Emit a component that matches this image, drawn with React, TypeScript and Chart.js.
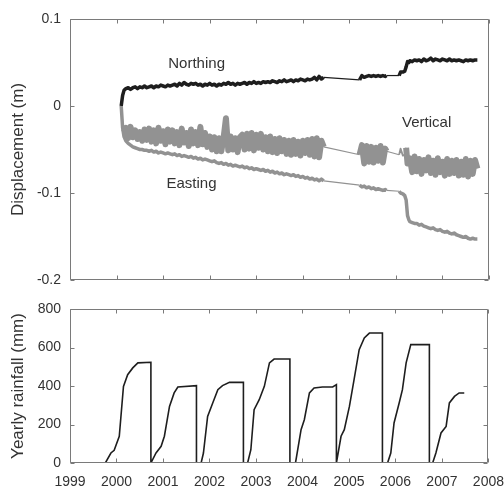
import React, { useEffect, useRef } from "react";
import { Chart, registerables } from "chart.js";

Chart.register(...registerables);

// ---------- Displacement data (years, metres) ----------
const dispTime = [
  2000.10, 2000.13, 2000.16,
  2000.20, 2000.25, 2000.30, 2000.35, 2000.40, 2000.45, 2000.50, 2000.55, 2000.60, 2000.65,
  2000.70, 2000.75, 2000.80, 2000.85, 2000.90, 2000.95, 2001.00, 2001.05, 2001.10, 2001.15,
  2001.20, 2001.25, 2001.30, 2001.35, 2001.40, 2001.45, 2001.50, 2001.55, 2001.60, 2001.65,
  2001.70, 2001.75, 2001.80, 2001.85, 2001.90, 2001.95, 2002.00, 2002.05, 2002.10, 2002.15,
  2002.20, 2002.25, 2002.30, 2002.35, 2002.40, 2002.45, 2002.50, 2002.55, 2002.60, 2002.65,
  2002.70, 2002.75, 2002.80, 2002.85, 2002.90, 2002.95, 2003.00, 2003.05, 2003.10, 2003.15,
  2003.20, 2003.25, 2003.30, 2003.35, 2003.40, 2003.45, 2003.50, 2003.55, 2003.60, 2003.65,
  2003.70, 2003.75, 2003.80, 2003.85, 2003.90, 2003.95, 2004.00, 2004.05, 2004.10, 2004.15,
  2004.20, 2004.25, 2004.30, 2004.35, 2004.40, 2004.45,
  2005.22, 2005.27, 2005.32, 2005.37, 2005.42, 2005.47, 2005.52, 2005.57, 2005.62, 2005.67, 2005.72, 2005.77, 2005.80,
  2006.07, 2006.10, 2006.15, 2006.19, 2006.22, 2006.25, 2006.28,
  2006.30, 2006.35, 2006.40, 2006.45, 2006.50, 2006.55, 2006.60, 2006.65, 2006.70, 2006.75,
  2006.80, 2006.85, 2006.90, 2006.95, 2007.00, 2007.05, 2007.10, 2007.15, 2007.20, 2007.25,
  2007.30, 2007.35, 2007.40, 2007.45, 2007.50, 2007.55, 2007.60, 2007.65, 2007.70, 2007.75,
];

const northing = [
  0.000, 0.012, 0.018,
  0.020, 0.021, 0.019, 0.021, 0.022, 0.020, 0.022, 0.021, 0.023, 0.021,
  0.022, 0.023, 0.021, 0.023, 0.022, 0.024, 0.023, 0.022, 0.024, 0.023,
  0.024, 0.025, 0.023, 0.026, 0.024, 0.027, 0.025, 0.024, 0.026, 0.025,
  0.026, 0.024, 0.025, 0.023, 0.025, 0.024, 0.026, 0.024, 0.025, 0.023,
  0.025, 0.024, 0.026, 0.025, 0.027, 0.025, 0.026, 0.024, 0.026, 0.025,
  0.026, 0.027, 0.025, 0.027, 0.026, 0.028, 0.026, 0.027, 0.026, 0.028,
  0.027, 0.028, 0.027, 0.029, 0.028, 0.027, 0.029, 0.028, 0.030, 0.028,
  0.029, 0.030, 0.028, 0.030, 0.029, 0.031, 0.030, 0.029, 0.031, 0.030,
  0.031, 0.033, 0.030, 0.034, 0.031, 0.033,
  0.030, 0.035, 0.033, 0.034, 0.035, 0.034, 0.035, 0.034, 0.035, 0.034, 0.035, 0.034, 0.035,
  0.035, 0.039, 0.039, 0.040, 0.045, 0.051, 0.050,
  0.052, 0.051, 0.053, 0.052, 0.053, 0.051, 0.054, 0.052, 0.053, 0.055,
  0.052, 0.054, 0.053, 0.052, 0.054, 0.053, 0.052, 0.054, 0.052, 0.053,
  0.052, 0.053, 0.052, 0.051, 0.053, 0.052, 0.053, 0.052, 0.053, 0.053,
];

const vertical = [
  0.000, -0.022, -0.030,
  -0.025, -0.037, -0.024, -0.036, -0.028, -0.038, -0.030, -0.040, -0.027, -0.039,
  -0.026, -0.041, -0.028, -0.043, -0.025, -0.040, -0.029, -0.044, -0.027, -0.041,
  -0.028, -0.043, -0.030, -0.045, -0.026, -0.042, -0.031, -0.046, -0.027, -0.043,
  -0.030, -0.045, -0.024, -0.044, -0.031, -0.047, -0.035, -0.050, -0.036, -0.052,
  -0.037, -0.052, -0.036, -0.014, -0.051, -0.035, -0.050, -0.037, -0.053, -0.036,
  -0.033, -0.050, -0.032, -0.049, -0.031, -0.051, -0.033, -0.048, -0.032, -0.050,
  -0.036, -0.052, -0.035, -0.053, -0.038, -0.054, -0.037, -0.052, -0.039, -0.055,
  -0.040, -0.056, -0.039, -0.055, -0.041, -0.057, -0.040, -0.054, -0.039, -0.056,
  -0.038, -0.058, -0.037, -0.059, -0.040, -0.047,
  -0.056, -0.045, -0.066, -0.046, -0.064, -0.047, -0.065, -0.048, -0.063, -0.046, -0.065, -0.049, -0.052,
  -0.056, -0.049, -0.057, -0.056, -0.048, -0.066, -0.060,
  -0.060, -0.076, -0.058, -0.075, -0.061, -0.078, -0.062, -0.074, -0.059, -0.077,
  -0.063, -0.079, -0.060, -0.076, -0.064, -0.080, -0.061, -0.078, -0.063, -0.077,
  -0.062, -0.080, -0.064, -0.079, -0.061, -0.081, -0.063, -0.078, -0.062, -0.072,
];

const easting = [
  0.000, -0.025, -0.035,
  -0.040, -0.043, -0.045, -0.047, -0.048, -0.049, -0.050, -0.050, -0.051, -0.051,
  -0.052, -0.051, -0.053, -0.052, -0.054, -0.053, -0.054, -0.055, -0.054, -0.055,
  -0.056, -0.055, -0.057, -0.056, -0.058, -0.057, -0.058, -0.059, -0.058, -0.060,
  -0.059, -0.061, -0.060, -0.062, -0.061, -0.062, -0.063, -0.064, -0.063, -0.065,
  -0.066, -0.065, -0.067, -0.066, -0.068, -0.067, -0.069, -0.068, -0.069, -0.070,
  -0.069, -0.071, -0.070, -0.072, -0.071, -0.073, -0.072, -0.073, -0.074, -0.073,
  -0.075, -0.074, -0.076, -0.075, -0.077, -0.076, -0.078, -0.077, -0.079, -0.078,
  -0.079, -0.080, -0.079, -0.081, -0.080, -0.082, -0.081, -0.083, -0.082, -0.084,
  -0.083, -0.085, -0.084, -0.086, -0.084, -0.086,
  -0.091, -0.093, -0.092, -0.094, -0.093, -0.095, -0.094, -0.096, -0.095, -0.096, -0.097, -0.096, -0.097,
  -0.098, -0.100, -0.101, -0.103, -0.108, -0.126, -0.131,
  -0.133, -0.134, -0.135, -0.135, -0.137, -0.136, -0.138, -0.139, -0.140, -0.141,
  -0.140, -0.142, -0.143, -0.142, -0.144, -0.145, -0.144, -0.146, -0.147, -0.146,
  -0.148, -0.149, -0.150, -0.151, -0.150, -0.152, -0.153, -0.152, -0.153, -0.153,
];

// ---------- Yearly (cumulative) rainfall ----------
const rainTime = [
  1999.76, 1999.88, 1999.95, 2000.06, 2000.15, 2000.24, 2000.35, 2000.46, 2000.74, 2000.74,
  2000.85, 2000.96, 2001.03, 2001.14, 2001.24, 2001.32, 2001.72, 2001.72, 2001.82,
  2001.87, 2001.96, 2002.07, 2002.18, 2002.28, 2002.43, 2002.73, 2002.73, 2002.82,
  2002.89, 2002.96, 2003.07, 2003.18, 2003.29, 2003.39, 2003.73, 2003.73, 2003.85,
  2003.97, 2004.04, 2004.15, 2004.25, 2004.43, 2004.65, 2004.73, 2004.73,
  2004.83, 2004.90, 2005.01, 2005.11, 2005.22, 2005.33, 2005.44, 2005.72, 2005.72, 2005.83,
  2005.90, 2005.97, 2006.08, 2006.15, 2006.23, 2006.33, 2006.73, 2006.73, 2006.80,
  2006.87, 2006.98, 2007.09, 2007.16, 2007.27, 2007.37, 2007.48,
];
const rainfall = [
  0, 52, 66, 139, 398, 459, 494, 520, 523, 0,
  52, 87, 139, 294, 364, 395, 402, 0, 0,
  52, 242, 312, 381, 402, 419, 419, 0, 0,
  69, 277, 329, 398, 520, 540, 540, 0, 0,
  173, 225, 364, 390, 395, 395, 407, 0,
  139, 173, 294, 433, 589, 650, 675, 675, 0, 0,
  52, 208, 312, 381, 520, 615, 615, 0, 0,
  52, 156, 190, 312, 346, 364, 364,
];

// ---------- Ticks & labels ----------
const yearTicks = [1999, 2000, 2001, 2002, 2003, 2004, 2005, 2006, 2007, 2008];
const dispTicks = [-0.2, -0.1, 0, 0.1];
const rainTicks = [0, 200, 400, 600, 800];
const seriesNames = ["Northing", "Vertical", "Easting"];
const seriesLabelX = [2001.72, 2006.66, 2001.61];
const seriesLabelY = [0.049, -0.0195, -0.0897];

const FONT = '"Liberation Sans", Arial, Helvetica, sans-serif';
const TEXT = "#333333";
const GRAY = "#929292";
const DARK = "#1e1e1e";
const FRAME = "#7a7a7a";

const frameTicksPlugin = {
  id: "frameTicks",
  afterDatasetsDraw(chart: any, _args: any, opts: any) {
    const { ctx, chartArea: a } = chart;
    const xs = chart.scales.x;
    const ys = chart.scales.y;
    const L = Math.round(a.left) + 0.5;
    const R = Math.round(a.right) - 0.5;
    const T = Math.round(a.top) + 0.5;
    const B = Math.round(a.bottom) - 0.5;
    const len = 4;
    ctx.save();
    ctx.strokeStyle = FRAME;
    ctx.lineWidth = 1;
    ctx.beginPath();
    ctx.rect(L, T, R - L, B - T);
    (opts.xTicks as number[]).forEach((v) => {
      const p = Math.round(xs.getPixelForValue(v)) + 0.5;
      ctx.moveTo(p, T);
      ctx.lineTo(p, T + len);
      ctx.moveTo(p, B);
      ctx.lineTo(p, B - len);
    });
    (opts.yTicks as number[]).forEach((v) => {
      const p = Math.round(ys.getPixelForValue(v)) + 0.5;
      ctx.moveTo(L, p);
      ctx.lineTo(L + len, p);
      ctx.moveTo(R, p);
      ctx.lineTo(R - len, p);
    });
    ctx.stroke();
    ctx.restore();
  },
};

const seriesTextPlugin = {
  id: "seriesText",
  afterDatasetsDraw(chart: any, _args: any, opts: any) {
    if (!opts || !opts.show) return;
    const { ctx } = chart;
    const xs = chart.scales.x;
    const ys = chart.scales.y;
    ctx.save();
    ctx.font = `15px ${FONT}`;
    ctx.fillStyle = TEXT;
    ctx.textAlign = "center";
    ctx.textBaseline = "middle";
    seriesNames.forEach((name, i) => {
      ctx.fillText(name, xs.getPixelForValue(seriesLabelX[i]), ys.getPixelForValue(seriesLabelY[i]));
    });
    ctx.restore();
  },
};

// thin connecting lines across data gaps
const gapWidth = (ctx: any) => (ctx.p1.parsed.x - ctx.p0.parsed.x > 0.2 ? 1.2 : undefined);
// vertical record: thin at the initial drop and around the sparse 2006 restart
const verticalWidth = (ctx: any) => {
  const x0 = ctx.p0.parsed.x;
  const x1 = ctx.p1.parsed.x;
  if (x1 - x0 > 0.2) return 1.2;
  if (x1 <= 2000.16) return 1.8;
  if (x0 >= 2006.07 && x1 <= 2006.22) return 1.8;
  return undefined;
};

function pairs(xs: number[], ys: number[]) {
  return xs.map((x, i) => ({ x, y: ys[i] }));
}

function yAxis(min: number, max: number, ticks: number[], title: string, fmt: (v: number) => string) {
  return {
    type: "linear" as const,
    min,
    max,
    afterBuildTicks: (s: any) => {
      s.ticks = ticks.map((value) => ({ value }));
    },
    afterFit: (s: any) => {
      s.width = 70;
    },
    // invisible tick marks only used to offset the labels from the frame
    grid: { display: false, drawTicks: true, tickLength: 9 },
    border: { display: false },
    ticks: {
      padding: 0,
      color: TEXT,
      font: { family: FONT, size: 14 },
      callback: (v: any) => fmt(Number(v)),
    },
    title: {
      display: true,
      text: title,
      color: TEXT,
      font: { family: FONT, size: 17 },
      padding: { top: 8, bottom: 0 },
    },
  };
}

function DisplacementChart() {
  const ref = useRef<HTMLCanvasElement | null>(null);
  useEffect(() => {
    if (!ref.current) return;
    const chart = new Chart(ref.current, {
      type: "line",
      data: {
        datasets: [
          {
            label: "Vertical",
            data: pairs(dispTime, vertical),
            borderColor: GRAY,
            borderWidth: 6,
            borderJoinStyle: "round",
            pointRadius: 0,
            tension: 0,
            segment: { borderWidth: verticalWidth },
          },
          {
            label: "Easting",
            data: pairs(dispTime, easting),
            borderColor: GRAY,
            borderWidth: 3.5,
            borderJoinStyle: "round",
            pointRadius: 0,
            tension: 0,
            segment: { borderWidth: gapWidth },
          },
          {
            label: "Northing",
            data: pairs(dispTime, northing),
            borderColor: DARK,
            borderWidth: 3.5,
            borderJoinStyle: "round",
            pointRadius: 0,
            tension: 0,
            segment: { borderWidth: gapWidth },
          },
        ],
      },
      options: {
        responsive: false,
        animation: false,
        events: [],
        layout: { padding: { top: 19, right: 15, bottom: 10, left: 0 } },
        plugins: {
          legend: { display: false },
          tooltip: { enabled: false },
          frameTicks: { xTicks: yearTicks, yTicks: dispTicks },
          seriesText: { show: true },
        } as any,
        scales: {
          x: {
            type: "linear",
            min: 1999,
            max: 2008,
            display: true,
            grid: { display: false, drawTicks: false },
            border: { display: false },
            ticks: { display: false, padding: 0 },
            afterFit: (s: any) => {
              s.height = 0;
            },
          },
          y: yAxis(-0.2, 0.1, dispTicks, "Displacement (m)", (v) => (v === 0 ? "0" : String(v))) as any,
        },
      },
      plugins: [frameTicksPlugin, seriesTextPlugin],
    });
    return () => chart.destroy();
  }, []);
  return (
    <canvas
      ref={ref}
      width={504}
      height={290}
      style={{ position: "absolute", left: 0, top: 0, width: 504, height: 290, display: "block" }}
    />
  );
}

function RainfallChart() {
  const ref = useRef<HTMLCanvasElement | null>(null);
  useEffect(() => {
    if (!ref.current) return;
    const chart = new Chart(ref.current, {
      type: "line",
      data: {
        datasets: [
          {
            label: "Yearly rainfall",
            data: pairs(rainTime, rainfall),
            borderColor: DARK,
            borderWidth: 1.6,
            pointRadius: 0,
            tension: 0,
          },
        ],
      },
      options: {
        responsive: false,
        animation: false,
        events: [],
        layout: { padding: { top: 19, right: 15, bottom: 0, left: 0 } },
        plugins: {
          legend: { display: false },
          tooltip: { enabled: false },
          frameTicks: { xTicks: yearTicks, yTicks: rainTicks },
          seriesText: { show: false },
        } as any,
        scales: {
          x: {
            type: "linear",
            min: 1999,
            max: 2008,
            afterBuildTicks: (s: any) => {
              s.ticks = yearTicks.map((value) => ({ value }));
            },
            afterFit: (s: any) => {
              s.height = 23;
            },
            grid: { display: false, drawTicks: true, tickLength: 11 },
            border: { display: false },
            ticks: {
              padding: 0,
              color: TEXT,
              maxRotation: 0,
              autoSkip: false,
              font: { family: FONT, size: 14 },
              callback: (v: any) => String(v),
            },
          },
          y: yAxis(0, 800, rainTicks, "Yearly rainfall (mm)", (v) => String(v)) as any,
        },
      },
      plugins: [frameTicksPlugin, seriesTextPlugin],
    });
    return () => chart.destroy();
  }, []);
  return (
    <canvas
      ref={ref}
      width={504}
      height={196}
      style={{ position: "absolute", left: 0, top: 290, width: 504, height: 196, display: "block" }}
    />
  );
}

export default function App() {
  return (
    <div style={{ position: "absolute", left: 0, top: 0, width: 504, height: 486, background: "#ffffff", overflow: "hidden" }}>
      <DisplacementChart />
      <RainfallChart />
    </div>
  );
}
